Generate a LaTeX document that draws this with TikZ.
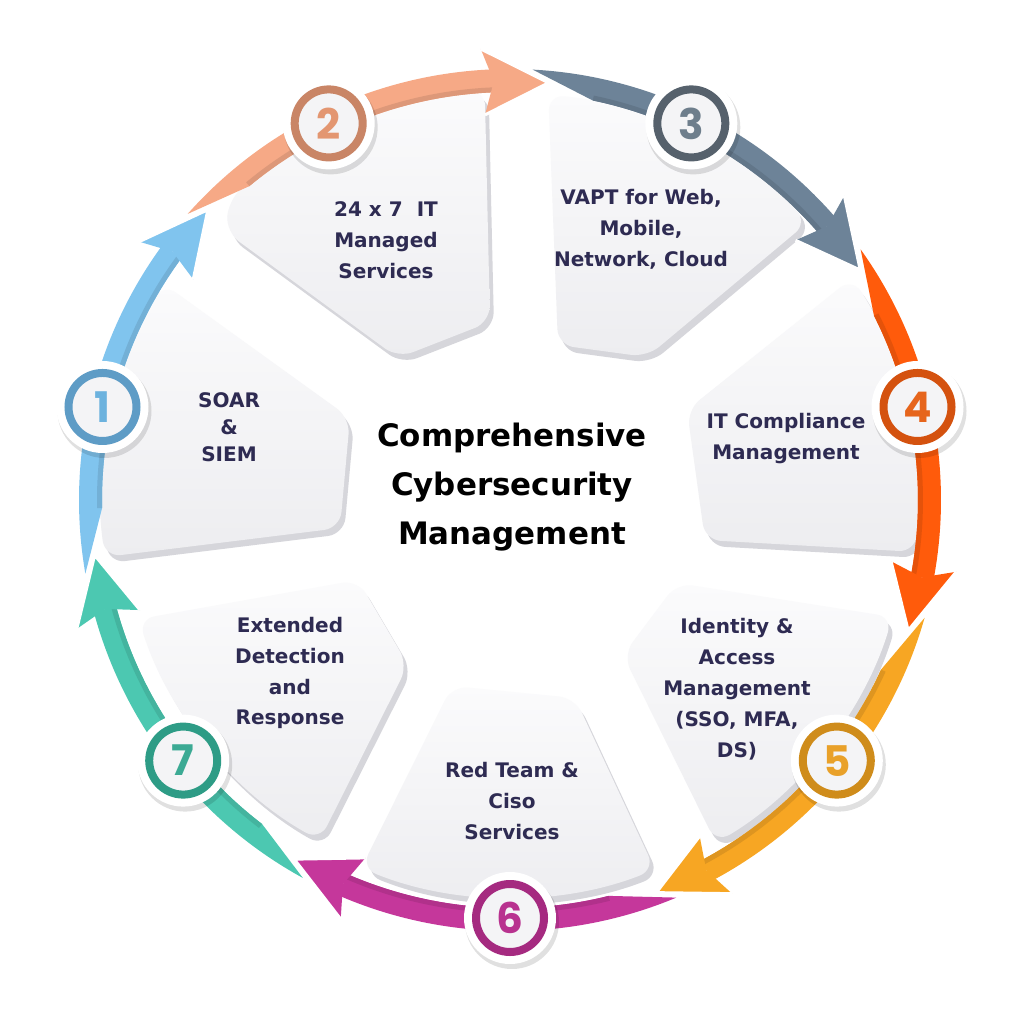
\documentclass[tikz,border=0pt]{standalone}
\usepackage{fontspec}
\setmainfont{DejaVu Sans}
\newfontfamily\numfont{Poppins}
\usetikzlibrary{calc}

% ring colours: band, badge ring, digit
\definecolor{bandA}{HTML}{80C4EE}\definecolor{ringA}{HTML}{5E9CC6}\definecolor{digA}{HTML}{6CB2DE}
\definecolor{bandB}{HTML}{F6A986}\definecolor{ringB}{HTML}{C98566}\definecolor{digB}{HTML}{E39671}
\definecolor{bandC}{HTML}{6D8398}\definecolor{ringC}{HTML}{56616C}\definecolor{digC}{HTML}{6E7E8C}
\definecolor{bandD}{HTML}{FF5B0B}\definecolor{ringD}{HTML}{D4520F}\definecolor{digD}{HTML}{E6651C}
\definecolor{bandE}{HTML}{F7A623}\definecolor{ringE}{HTML}{CF8C1B}\definecolor{digE}{HTML}{E9A12A}
\definecolor{bandF}{HTML}{C5379B}\definecolor{ringF}{HTML}{A52A80}\definecolor{digF}{HTML}{B8328F}
\definecolor{bandG}{HTML}{4CC8B1}\definecolor{ringG}{HTML}{2E9C86}\definecolor{digG}{HTML}{3CAA94}
\definecolor{navy}{HTML}{2E2B52}
\definecolor{segT}{HTML}{FBFBFC}
\definecolor{segB}{HTML}{EDEDF0}
\definecolor{segS}{HTML}{D6D6DB}
\definecolor{badgeIn}{HTML}{F4F4F6}

% segment outlines (pixel grid, y downwards)
\def\segI{(105,557) arc[start angle=172,end angle=212,radius=409] -- (350,418) -- (340,528) -- cycle}
\def\segII{(226,232) -- (228.5,200.5) arc[start angle=-133.2,end angle=-93.5,radius=411] -- (490,322) -- (398,358) -- cycle}
\def\segIII{(558,345) -- (548.3,94.8) arc[start angle=-84.6,end angle=-43,radius=407] -- (647,357) -- cycle}
\def\segIV{(687,410) -- (852.2,277.8) arc[start angle=-33,end angle=7.3,radius=408] -- (705,540) -- cycle}
\def\segV{(623,655) -- (677,583) -- (892.5,617) arc[start angle=17,end angle=59,radius=400] -- cycle}
\def\segVI{(452,686) -- (575,698) -- (654.9,869.6) arc[start angle=68.6,end angle=112,radius=397] -- cycle}
\def\segVII{(358,580) -- (408,665) -- (319.7,840.4) arc[start angle=119.2,end angle=162.2,radius=390] -- cycle}

\begin{document}
\begin{tikzpicture}[x=0.1mm,y=-0.1mm,
  segface/.style={top color=segT,bottom color=segB,rounded corners=1.6mm},
  segshade/.style={fill=segS,rounded corners=1.6mm},
  lbl/.style={text=navy,font=\bfseries\fontsize{5.7}{8.8}\selectfont,align=center,inner sep=0pt},
  title/.style={text=black,font=\bfseries\fontsize{8.8}{13.9}\selectfont,align=center,inner sep=0pt},
  badge/.style={circle,line width=0.8mm,fill=badgeIn,minimum size=6.8mm,inner sep=0pt,
    font=\numfont\bfseries\fontsize{12}{12}\selectfont}]

\fill[white] (0,0) rectangle (1024,1024);
\useasboundingbox (0,0) rectangle (1024,1024);
\coordinate (C) at (510,500);

% raised segments: shadow edge, then face
\foreach \s in {\segI,\segII,\segIII,\segIV,\segV,\segVI,\segVII}{
  \fill[segshade,shift={(4,6)}] \s;
  \shade[segface] \s;
}

% tapered ring bands
\foreach \b/\cb in {-167.14/bandA,-115.71/bandB,-64.29/bandC,-12.86/bandD,38.57/bandE,90/bandF,141.43/bandG}{
  \pgfmathsetmacro\ta{\b-22.7}
  \pgfmathsetmacro\tf{\b-14}
  \pgfmathsetmacro\hb{\b+23.5}
  \fill[\cb] ($(C)+(\ta:431)$) arc[start angle=\ta,end angle=\hb,radius=431]
    -- ($(C)+(\hb:408)$) arc[start angle=\hb,end angle=\tf,radius=408] -- cycle;
  \fill[\cb!90!black] ($(C)+(\tf:408)$) arc[start angle=\tf,end angle=\hb,radius=408]
    -- ($(C)+(\hb:413)$) arc[start angle=\hb,end angle=\tf,radius=413] -- cycle;
}
% arrow heads on top of the next band's tail
\foreach \b/\cb in {-167.14/bandA,-115.71/bandB,-64.29/bandC,-12.86/bandD,38.57/bandE,90/bandF,141.43/bandG}{
  \pgfmathsetmacro\hb{\b+23.5}
  \pgfmathsetmacro\hw{\b+22}
  \pgfmathsetmacro\tp{\b+31}
  \fill[\cb] ($(C)+(\hw:452)$) -- ($(C)+(\tp:419)$) -- ($(C)+(\hw:386)$) -- ($(C)+(\hb:419)$) -- cycle;
  \draw[white,line width=0.3mm,line join=round] ($(C)+(\hw:452)$) -- ($(C)+(\tp:419)$) -- ($(C)+(\hw:386)$);
}

% numbered badges
\foreach \b/\n/\cr/\ct in {-167.14/1/ringA/digA,-115.71/2/ringB/digB,-64.29/3/ringC/digC,-12.86/4/ringD/digD,38.57/5/ringE/digE,90/6/ringF/digF,141.43/7/ringG/digG}{
  \coordinate (p\n) at ($(C)+(\b:418)$);
  \fill[black,opacity=0.12] ($(p\n)+(2,4)$) circle[radius=47];
  \fill[white] (p\n) circle[radius=46];
  \node[badge,draw=\cr,text=\ct] (n\n) at (p\n) {\n};
}

% labels
\node[lbl,font=\bfseries\fontsize{5.7}{7.7}\selectfont] (t1) at (229,427) {SOAR\\\&\\SIEM};
\node[lbl] (t2) at (386,240) {24 x 7~~IT\\Managed\\Services};
\node[lbl] (t3) at (641,229) {VAPT for Web,\\Mobile,\\Network, Cloud};
\node[lbl] (t4) at (786,439) {IT Compliance\\Management};
\node[lbl] (t5) at (737,689) {Identity \&\\Access\\Management\\(SSO, MFA,\\DS)};
\node[lbl] (t6) at (512,801) {Red Team \&\\Ciso\\Services};
\node[lbl] (t7) at (290,673) {Extended\\Detection\\and\\Response};
\node[title] (tc) at (512,487) {Comprehensive\\Cybersecurity\\Management};
\end{tikzpicture}
\end{document}
